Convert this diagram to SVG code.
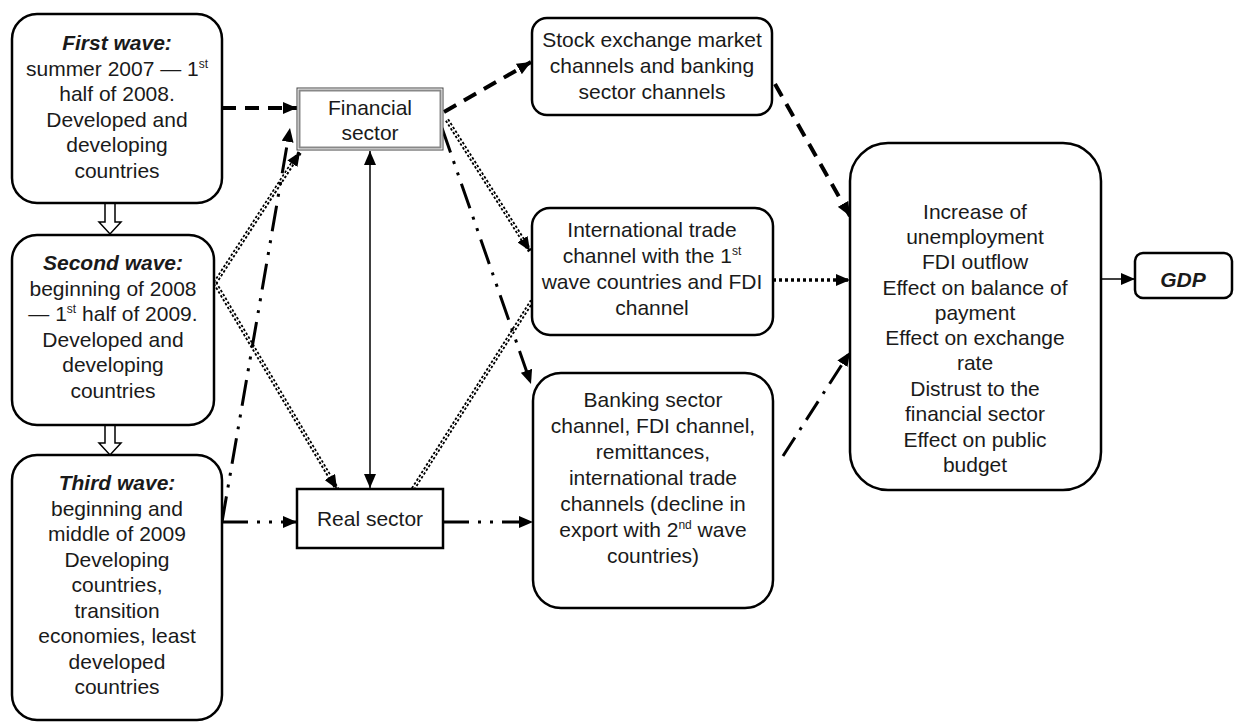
<svg xmlns="http://www.w3.org/2000/svg" width="1241" height="724" viewBox="0 0 1241 724">
<defs>
<style>
text{font-family:"Liberation Sans",Arial,sans-serif;font-size:21px;fill:#1a1a1a;text-anchor:middle}
.bi{font-weight:bold;font-style:italic}
.box{fill:#fff;stroke:#000;stroke-width:2.5}
.sup{font-size:12px}
.dash{fill:none;stroke:#000;stroke-width:4;stroke-dasharray:14 9}
.dd{fill:none;stroke:#000;stroke-width:4.5;stroke-dasharray:2.5 2}
.ddw{fill:none;stroke:#fff;stroke-width:1}
.ddd{fill:none;stroke:#000;stroke-width:3;stroke-dasharray:26 9 3 9 3 9}
.dda{fill:none;stroke:#000;stroke-width:3;stroke-dasharray:22 9 3 9}
.dot{fill:none;stroke:#000;stroke-width:3.5;stroke-dasharray:3 3}
.thin{fill:none;stroke:#000;stroke-width:1.5}
.hol{fill:#fff;stroke:#000;stroke-width:1.5}
</style>
<marker id="a" viewBox="0 0 14 12" refX="14" refY="6" markerWidth="14" markerHeight="12" markerUnits="userSpaceOnUse" orient="auto"><path d="M0,0 L14,6 L0,12 z" fill="#000"/></marker>
<marker id="as" viewBox="0 0 14 12" refX="14" refY="6" markerWidth="14" markerHeight="12" markerUnits="userSpaceOnUse" orient="auto-start-reverse"><path d="M0,0 L14,6 L0,12 z" fill="#000"/></marker>
</defs>

<g id="connectors">
<path class="hol" d="M105,203 V222 H99 L110,234 L121,222 H115 V203"/>
<path class="hol" d="M105,425 V443 H99 L110,455 L121,443 H115 V425"/>
<path class="dash" d="M222,108 H297" marker-end="url(#a)"/>
<path class="dash" d="M444,112 L531,62" marker-end="url(#a)"/>
<path class="dash" d="M775,84 L850,216" marker-end="url(#a)"/>
<path class="dd" d="M447,120 L530,251" marker-end="url(#a)"/>
<path class="ddw" d="M447,120 L523,240"/>
<path class="dd" d="M215,283 L300,152" marker-end="url(#a)"/>
<path class="ddw" d="M215,283 L292,164"/>
<path class="dd" d="M215,283 L337,489" marker-end="url(#a)"/>
<path class="ddw" d="M215,283 L330,477"/>
<path class="dd" d="M413,489 L532,301"/>
<path class="ddw" d="M413,489 L532,301"/>
<path class="ddd" d="M442,128 L531,384" marker-end="url(#a)"/>
<path class="ddd" d="M222,522 L290,128" marker-end="url(#a)"/>
<path class="ddd" d="M222,522 H297" marker-end="url(#a)"/>
<path class="ddd" d="M443,522 H533" marker-end="url(#a)"/>
<path class="dot" d="M773,280 H850" marker-end="url(#a)"/>
<path class="dda" d="M783,456 L850,352" marker-end="url(#a)"/>
<path class="thin" d="M370,151 V488" marker-start="url(#as)" marker-end="url(#as)"/>
<path class="thin" d="M1101,279 H1135" marker-end="url(#a)"/>
</g>

<g id="first-wave">
<rect class="box" x="12" y="14" width="210" height="189" rx="25"/>
<text x="117" y="50" class="bi">First wave:</text>
<text x="117" y="76">summer 2007 — 1<tspan class="sup" dy="-8">st</tspan></text>
<text x="117" y="101">half of 2008.</text>
<text x="117" y="127">Developed and</text>
<text x="117" y="152">developing</text>
<text x="117" y="178">countries</text>
</g>

<g id="second-wave">
<rect class="box" x="12" y="235" width="202" height="190" rx="25"/>
<text x="113" y="270" class="bi">Second wave:</text>
<text x="113" y="296">beginning of 2008</text>
<text x="113" y="321">— 1<tspan class="sup" dy="-8">st</tspan><tspan dy="8"> half of 2009.</tspan></text>
<text x="113" y="347">Developed and</text>
<text x="113" y="372">developing</text>
<text x="113" y="398">countries</text>
</g>

<g id="third-wave">
<rect class="box" x="12" y="455" width="210" height="265" rx="25"/>
<text x="117" y="490" class="bi">Third wave:</text>
<text x="117" y="516">beginning and</text>
<text x="117" y="541">middle of 2009</text>
<text x="117" y="567">Developing</text>
<text x="117" y="592">countries,</text>
<text x="117" y="618">transition</text>
<text x="117" y="643">economies, least</text>
<text x="117" y="669">developed</text>
<text x="117" y="694">countries</text>
</g>

<g id="financial-sector">
<rect x="297" y="88" width="146" height="62" fill="#fff" stroke="#444" stroke-width="1"/>
<rect x="299.5" y="90.5" width="141" height="57" fill="none" stroke="#888" stroke-width="2"/>
<text x="370" y="115">Financial</text>
<text x="370" y="140">sector</text>
</g>

<g id="real-sector">
<rect x="297" y="489" width="146" height="59" fill="#fff" stroke="#000" stroke-width="2.5"/>
<text x="370" y="526">Real sector</text>
</g>

<g id="stock-exchange">
<rect class="box" x="532" y="18" width="240" height="97" rx="15"/>
<text x="652" y="47">Stock exchange market</text>
<text x="652" y="73">channels and banking</text>
<text x="652" y="99">sector channels</text>
</g>

<g id="international-trade">
<rect class="box" x="532" y="208" width="241" height="127" rx="18"/>
<text x="652" y="237">International trade</text>
<text x="652" y="263">channel with the 1<tspan class="sup" dy="-8">st</tspan></text>
<text x="652" y="289">wave countries and FDI</text>
<text x="652" y="315">channel</text>
</g>

<g id="banking-sector">
<rect class="box" x="533" y="373" width="240" height="235" rx="28"/>
<text x="653" y="407">Banking sector</text>
<text x="653" y="433">channel, FDI channel,</text>
<text x="653" y="459">remittances,</text>
<text x="653" y="485">international trade</text>
<text x="653" y="511">channels (decline in</text>
<text x="653" y="537">export with 2<tspan class="sup" dy="-8">nd</tspan><tspan dy="8"> wave</tspan></text>
<text x="653" y="563">countries)</text>
</g>

<g id="effects">
<rect class="box" x="850" y="143" width="251" height="347" rx="38"/>
<text x="975" y="219">Increase of</text>
<text x="975" y="244">unemployment</text>
<text x="975" y="269">FDI outflow</text>
<text x="975" y="295">Effect on balance of</text>
<text x="975" y="320">payment</text>
<text x="975" y="345">Effect on exchange</text>
<text x="975" y="370">rate</text>
<text x="975" y="396">Distrust to the</text>
<text x="975" y="421">financial sector</text>
<text x="975" y="447">Effect on public</text>
<text x="975" y="472">budget</text>
</g>

<g id="gdp">
<rect class="box" x="1135" y="253" width="97" height="45" rx="8"/>
<text x="1183" y="287" class="bi">GDP</text>
</g>
</svg>
